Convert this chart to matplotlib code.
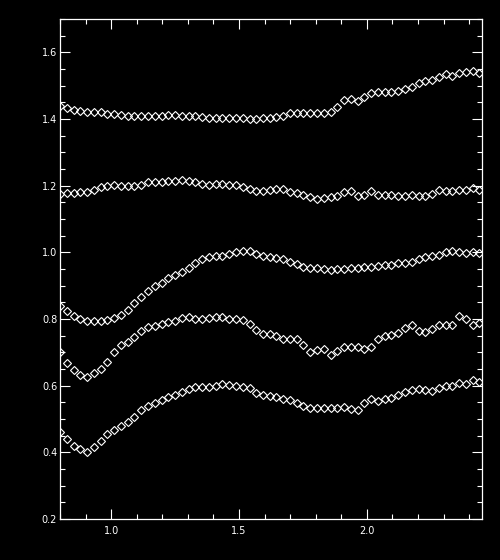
import matplotlib
matplotlib.use("Agg")
import matplotlib.pyplot as plt
from matplotlib.ticker import MultipleLocator, FormatStrFormatter

# Sample positions (x axis)
x = [0.800, 0.826, 0.853, 0.879, 0.906, 0.932, 0.959, 0.985, 1.012, 1.038,
     1.065, 1.091, 1.117, 1.144, 1.170, 1.197, 1.223, 1.250, 1.276, 1.303,
     1.329, 1.355, 1.382, 1.408, 1.435, 1.461, 1.488, 1.514, 1.541, 1.567,
     1.594, 1.620, 1.646, 1.673, 1.699, 1.726, 1.752, 1.779, 1.805, 1.832,
     1.858, 1.885, 1.911, 1.937, 1.964, 1.990, 2.017, 2.043, 2.070, 2.096,
     2.123, 2.149, 2.175, 2.202, 2.228, 2.255, 2.281, 2.308, 2.334, 2.361,
     2.387, 2.414, 2.440]

s1 = [1.440, 1.432, 1.428, 1.425, 1.420, 1.420, 1.420, 1.415, 1.415, 1.413,
      1.408, 1.408, 1.408, 1.408, 1.408, 1.408, 1.413, 1.413, 1.410, 1.408,
      1.408, 1.405, 1.402, 1.402, 1.402, 1.402, 1.402, 1.402, 1.400, 1.400,
      1.402, 1.402, 1.405, 1.410, 1.417, 1.417, 1.417, 1.417, 1.417, 1.417,
      1.420, 1.437, 1.457, 1.460, 1.454, 1.467, 1.479, 1.480, 1.480, 1.480,
      1.485, 1.489, 1.497, 1.507, 1.513, 1.518, 1.527, 1.534, 1.529, 1.537,
      1.540, 1.545, 1.538]

s2 = [1.175, 1.177, 1.177, 1.180, 1.182, 1.188, 1.195, 1.200, 1.203, 1.200,
      1.198, 1.200, 1.202, 1.210, 1.210, 1.212, 1.215, 1.213, 1.218, 1.215,
      1.211, 1.204, 1.203, 1.205, 1.205, 1.202, 1.202, 1.195, 1.189, 1.183,
      1.183, 1.188, 1.190, 1.190, 1.182, 1.178, 1.171, 1.165, 1.160, 1.164,
      1.167, 1.170, 1.182, 1.183, 1.170, 1.173, 1.183, 1.173, 1.173, 1.171,
      1.169, 1.170, 1.171, 1.170, 1.169, 1.175, 1.187, 1.184, 1.183, 1.188,
      1.187, 1.192, 1.186]

s3 = [0.840, 0.824, 0.809, 0.800, 0.794, 0.794, 0.795, 0.797, 0.803, 0.812,
      0.827, 0.847, 0.867, 0.885, 0.899, 0.907, 0.922, 0.932, 0.942, 0.954,
      0.967, 0.980, 0.987, 0.990, 0.990, 0.995, 1.002, 1.005, 1.004, 0.994,
      0.990, 0.987, 0.982, 0.980, 0.972, 0.964, 0.957, 0.952, 0.952, 0.949,
      0.947, 0.949, 0.951, 0.952, 0.952, 0.955, 0.955, 0.960, 0.962, 0.962,
      0.967, 0.967, 0.972, 0.980, 0.985, 0.990, 0.992, 1.002, 1.005, 1.002,
      0.997, 1.002, 0.997]

s4 = [0.700, 0.667, 0.647, 0.632, 0.627, 0.637, 0.649, 0.672, 0.700, 0.722,
      0.732, 0.745, 0.765, 0.777, 0.780, 0.784, 0.792, 0.794, 0.802, 0.807,
      0.800, 0.799, 0.804, 0.807, 0.805, 0.801, 0.800, 0.796, 0.786, 0.766,
      0.756, 0.756, 0.750, 0.740, 0.739, 0.739, 0.722, 0.700, 0.707, 0.709,
      0.691, 0.705, 0.717, 0.717, 0.716, 0.709, 0.716, 0.740, 0.750, 0.753,
      0.758, 0.772, 0.781, 0.764, 0.760, 0.769, 0.781, 0.781, 0.783, 0.808,
      0.801, 0.783, 0.789]

s5 = [0.460, 0.440, 0.420, 0.410, 0.402, 0.415, 0.435, 0.454, 0.467, 0.479,
      0.490, 0.507, 0.527, 0.539, 0.549, 0.557, 0.565, 0.572, 0.582, 0.590,
      0.595, 0.597, 0.597, 0.599, 0.605, 0.602, 0.599, 0.595, 0.592, 0.578,
      0.572, 0.569, 0.566, 0.560, 0.558, 0.548, 0.538, 0.532, 0.534, 0.534,
      0.533, 0.533, 0.535, 0.529, 0.528, 0.548, 0.561, 0.553, 0.560, 0.563,
      0.573, 0.581, 0.588, 0.590, 0.588, 0.583, 0.593, 0.598, 0.599, 0.608,
      0.605, 0.616, 0.611]

series = [s1, s2, s3, s4, s5]

fig = plt.figure(figsize=(5.0, 5.6), dpi=100, facecolor="black")
ax = fig.add_axes([60/500, 41/560, 422/500, 500/560], facecolor="black")

for s in series:
    ax.plot(x, s, linestyle="none", marker="D", markersize=3.6,
            markerfacecolor="none", markeredgecolor="white",
            markeredgewidth=0.8, clip_on=True)

ax.set_xlim(0.8, 2.45)
ax.set_ylim(0.2, 1.7)

ax.xaxis.set_major_locator(MultipleLocator(0.5))
ax.xaxis.set_minor_locator(MultipleLocator(0.1))
ax.yaxis.set_major_locator(MultipleLocator(0.2))
ax.yaxis.set_minor_locator(MultipleLocator(0.05))
ax.xaxis.set_major_formatter(FormatStrFormatter("%.1f"))
ax.yaxis.set_major_formatter(FormatStrFormatter("%.1f"))

for sp in ax.spines.values():
    sp.set_color("white")
    sp.set_linewidth(0.9)

ax.tick_params(which="both", direction="in", colors="white",
               top=True, right=True, labelsize=7, width=0.8)
ax.tick_params(which="major", length=7.2)
ax.tick_params(which="minor", length=3.6)
ax.tick_params(axis="x", which="major", pad=5)
ax.tick_params(axis="y", which="major", pad=2)

fig.savefig("out.png", dpi=100, facecolor="black")
